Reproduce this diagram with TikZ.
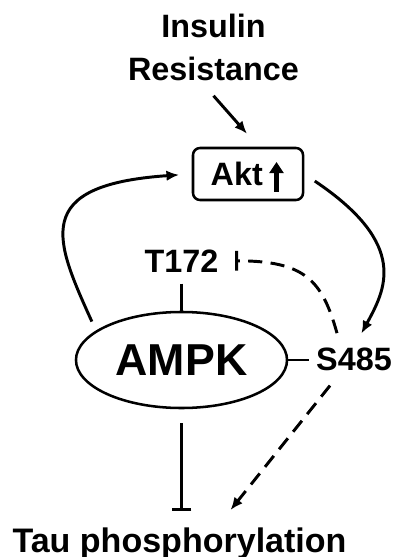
\documentclass[tikz,border=0pt]{standalone}
\usepackage{fontspec}
\setmainfont{Liberation Sans}
\usepackage{tikz}
\usetikzlibrary{arrows.meta, shapes.geometric, positioning, calc}

\begin{document}
\begin{tikzpicture}[x=0.025cm, y=-0.025cm,
	font=\fontsize{23}{30}\selectfont\bfseries,
	lbl/.style={inner sep=0pt, align=center},
	aktbox/.style={draw, rounded corners=5pt, line width=1.8pt, minimum width=2.75cm,
		minimum height=1.3cm, inner sep=0pt},
	kin/.style={ellipse, draw, line width=1.8pt, minimum width=5.275cm, minimum height=2.4cm,
		inner sep=0pt, font=\fontsize{31.8}{36}\selectfont\bfseries},
	lnk/.style={line width=2.1pt},
	act/.style={lnk, -{Latex[length=9pt, width=7.5pt]}},
	inh/.style={lnk, -{Bar[width=14pt]}},
	dsh/.style={dash pattern=on 10pt off 6pt},
	uparr/.style={line width=3pt, -{Triangle[length=8pt, width=10pt]}}]
	\useasboundingbox (0,0) rectangle (397,557);
	% labels
	\node[lbl] (ins) at (213.5,47.5) {Insulin\\Resistance};
	\node[aktbox] (akt) at (248,174) {Akt\kern16pt};
	\draw[uparr] ($(akt.center)+(28.5,18)$) -- ($(akt.center)+(28.5,-12)$);
	\node[lbl, anchor=base] (t172) at (181.5,272) {T172};
	\node[kin] (ampk) at (181.5,360) {AMPK};
	\node[lbl, anchor=base] (s485) at (354,370) {S485};
	\node[lbl, anchor=base, font=\fontsize{24.2}{30}\selectfont\bfseries] (tau) at (179.5,552) {Tau phosphorylation};
	% loop round Akt
	\draw[act] ($(ins.south)+(0,15)$) -- ($(akt.north)+(-1,-13)$);
	\draw[act, shorten <=7pt, shorten >=9pt] (ampk.161) .. controls (55,240) and (30,185) .. (akt.west);
	\draw[act, shorten <=9pt, shorten >=11pt] (akt.east) .. controls (410,245) and (385,290) .. (s485.north);
	% sites
	\draw[lnk, shorten <=8pt] (t172) -- (ampk);
	\draw[lnk, shorten >=5pt] (ampk.east) -- (ampk.east -| s485.west);
	\draw[inh, dsh, shorten >=11.7pt] ($(s485.north)+(-17,-14)$) .. controls (322,280) and (305,261) .. (t172.east);
	% tau
	\draw[inh, shorten <=10pt, shorten >=11.4pt] (ampk.south) -- (ampk.south |- tau.north);
	\draw[act, dsh] ($(s485.south)+(-24,15)$) -- ($(tau.north)+(51,-17)$);
\end{tikzpicture}
\end{document}
